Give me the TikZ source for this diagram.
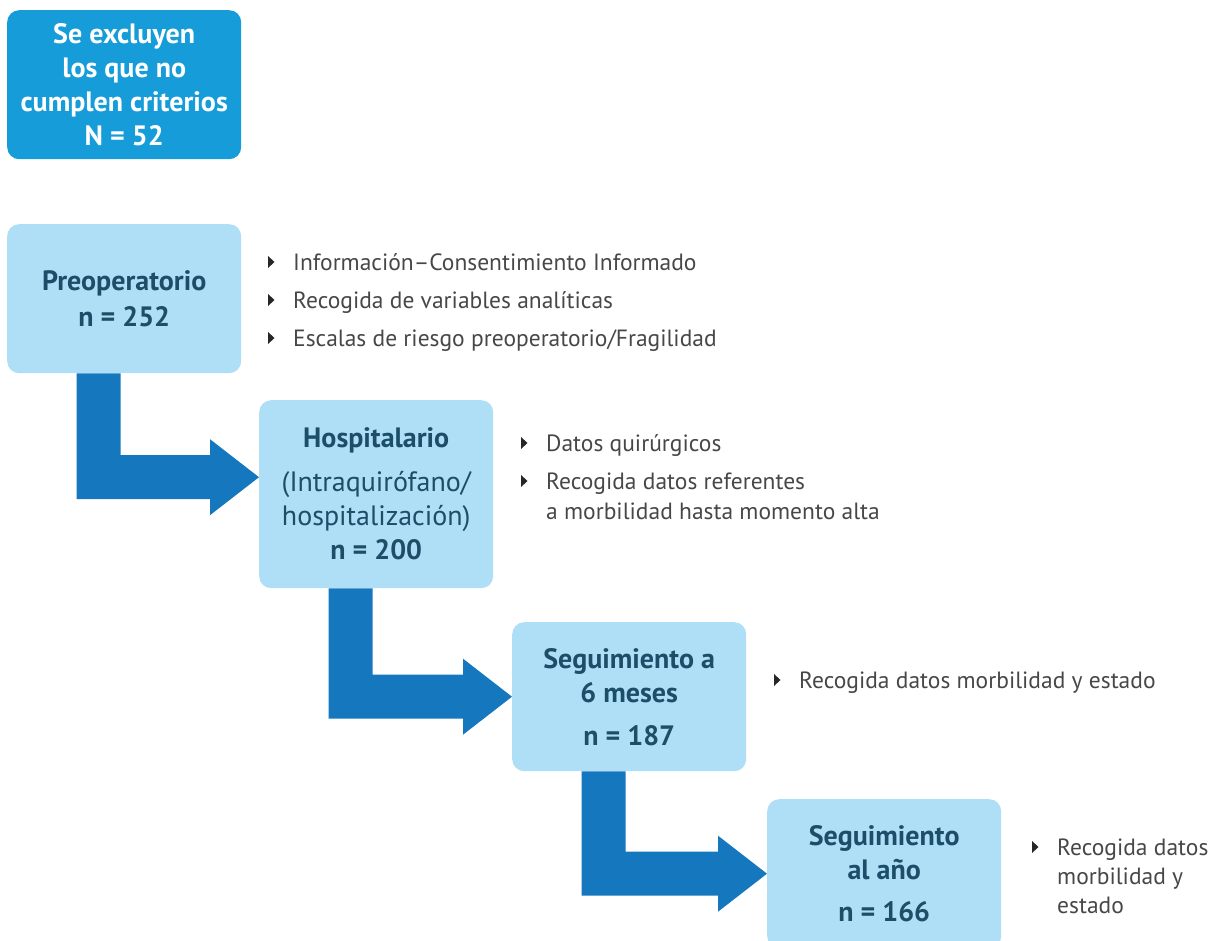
\documentclass[tikz,border=0pt]{standalone}
\usepackage{fontspec}
\setmainfont{PT Sans}
\newfontfamily\headfont{PT Sans}
\newfontfamily\notefont{PT Sans}
\usetikzlibrary{calc}
\definecolor{exclblue}{HTML}{169DD9}
\definecolor{stagefill}{HTML}{AEDFF6}
\definecolor{flowblue}{HTML}{1578BE}
\definecolor{stagetext}{HTML}{1C4D69}
\definecolor{notetext}{HTML}{474747}
\tikzset{
  stage/.style={fill=stagefill, rounded corners=12pt, minimum width=234pt,
    minimum height=149pt, align=center, text=stagetext, inner sep=0pt,
    font=\headfont\bfseries\fontsize{28}{34}\selectfont, anchor=north west},
  excl/.style={stage, fill=exclblue, text=white},
  note/.style={font=\notefont\fontsize{23.5}{30}\selectfont, text=notetext,
    anchor=base west, inner sep=0pt},
  flowfill/.style={fill=flowblue},
  bulletmark/.style={fill=black!85}
}
% thick elbow arrow from the bottom of one stage to the left side of the next
\newcommand\flowarrow[3]{%
  \coordinate (#1-#2-tip) at ($(#2.west)+(0,#3)$);
  \fill[flowfill] ($(#1.south west)+(69.5,0)$) |- ($(#1-#2-tip)+(-49,22)$)
    -- ++(0,16) -- (#1-#2-tip) -- ($(#1-#2-tip)+(-49,-38)$) -- ++(0,16)
    -| ($(#1.south west)+(113.5,0)$) -- cycle;}
% small triangular bullet in front of a note line
\newcommand\bulletfor[1]{%
  \fill[bulletmark] ($(#1.base west)+(-25,-14)$) -- ++(6.5,6) -- ++(-6.5,6) -- cycle;}
\begin{document}
\begin{tikzpicture}[x=1pt,y=-1pt]
\useasboundingbox (0,0) rectangle (1217,941);

% stages
\node[excl] (excl) at (7,10) {Se excluyen\\los que no\\cumplen criterios\\N = 52};
\node[stage] (pre) at (7,224) {Preoperatorio\\[2pt]n = 252};
\node[stage, minimum height=188pt] (hosp) at (259,400)
  {Hospitalario\\[10pt]\mdseries (Intraquirófano/\\\mdseries hospitalización)\\n = 200};
\node[stage] (six) at (512,622) {Seguimiento a\\6 meses\\[9pt]n = 187};
\node[stage] (year) at (767,799) {Seguimiento\\al año\\[8pt]n = 166};

% flow between stages
\flowarrow{pre}{hosp}{-17}
\flowarrow{hosp}{six}{0}
\flowarrow{six}{year}{0}

% notes for each stage
\node[note] (p1) at (293,270) {Información–Consentimiento Informado};
\node[note] (p2) at (293,308) {Recogida de variables analíticas};
\node[note] (p3) at (293,346) {Escalas de riesgo preoperatorio/Fragilidad};
\bulletfor{p1}\bulletfor{p2}\bulletfor{p3}

\node[note] (h1) at (546,451) {Datos quirúrgicos};
\node[note] (h2) at (546,489) {Recogida datos referentes};
\node[note] (h2b) at (546,519) {a morbilidad hasta momento alta};
\bulletfor{h1}\bulletfor{h2}

\node[note] (s1) at (799,688) {Recogida datos morbilidad y estado};
\bulletfor{s1}

\node[note] (y1) at (1057,855) {Recogida datos};
\node[note] (y1b) at (1057,884) {morbilidad y};
\node[note] (y1c) at (1057,913) {estado};
\bulletfor{y1}
\end{tikzpicture}
\end{document}
